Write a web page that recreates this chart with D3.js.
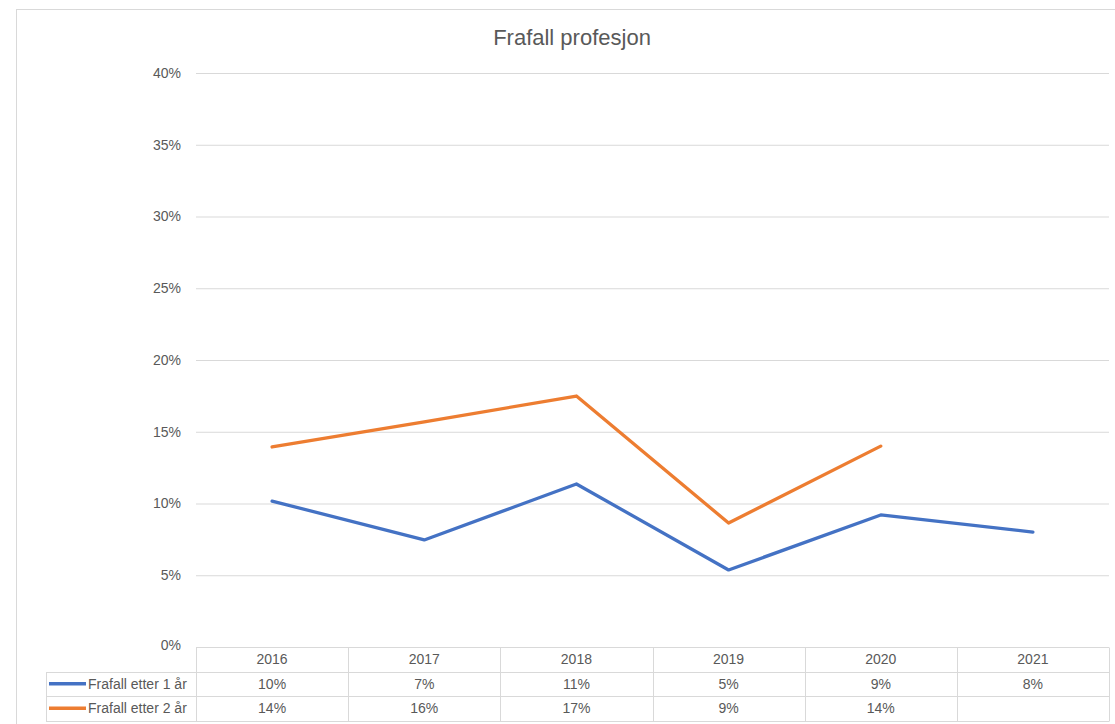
<!DOCTYPE html>
<html>
<head>
<meta charset="utf-8">
<script src="https://cdnjs.cloudflare.com/ajax/libs/d3/7.8.5/d3.min.js"></script>
<style>
  body { margin: 0; background: #fff; }
  svg text { font-family: "Liberation Sans", Arial, sans-serif; fill: #595959; }
</style>
</head>
<body>
<svg id="chart"></svg>
<script>
const years = ["2016", "2017", "2018", "2019", "2020", "2021"];
const etter1 = [0.1017, 0.0746, 0.1136, 0.0537, 0.092, 0.0801];
const etter2 = [0.1394, 0.1568, 0.1749, 0.0864, 0.140, null];
const seriesNames = ["Frafall etter 1 år", "Frafall etter 2 år"];
const seriesColors = ["#4472c4", "#ed7d31"];
const yTicks = [0, 0.05, 0.10, 0.15, 0.20, 0.25, 0.30, 0.35, 0.40];

const W = 1115, H = 724;
const plot = { left: 196, right: 1109, top: 73, bottom: 647 };
const rowH = 24.5;
const legendLeft = 46;
const fs = "14px";

const svg = d3.select("#chart").attr("width", W).attr("height", H);

// chart frame
svg.append("rect")
  .attr("x", 16.5).attr("y", 9.5)
  .attr("width", 1110).attr("height", 730)
  .attr("fill", "none").attr("stroke", "#d9d9d9");

svg.append("text")
  .attr("x", 572).attr("y", 45)
  .attr("text-anchor", "middle")
  .style("font-size", "22px")
  .text("Frafall profesjon");

const x = d3.scaleBand().domain(years).range([plot.left, plot.right]);
const y = d3.scaleLinear().domain([0, 0.4]).range([plot.bottom, plot.top]);

// gridlines + y labels via axis
const yAxis = svg.append("g")
  .attr("transform", "translate(" + plot.left + ",0)")
  .call(d3.axisLeft(y).tickValues(yTicks).tickFormat(d3.format(".0%"))
    .tickSize(-(plot.right - plot.left)).tickPadding(15));
yAxis.select(".domain").remove();
yAxis.selectAll(".tick line").attr("stroke", "#d9d9d9");
yAxis.selectAll(".tick text").style("font-size", fs).attr("fill", "#595959");
yAxis.selectAll(".tick").filter(d => d === 0).select("line").remove();
yAxis.selectAll(".tick").filter(d => d === 0).select("text").attr("dy", "0.15em");

// lines
const line = d3.line()
  .defined(d => d != null)
  .x((d, i) => x(years[i]) + x.bandwidth() / 2)
  .y(d => y(d));

[etter1, etter2].forEach((vals, k) => {
  svg.append("path")
    .attr("d", line(vals))
    .attr("fill", "none")
    .attr("stroke", seriesColors[k])
    .attr("stroke-width", 3.3)
    .attr("stroke-linejoin", "round")
    .attr("stroke-linecap", "round");
});

// data table
const grid = svg.append("g").attr("stroke", "#d9d9d9").attr("stroke-width", 1);
const rows = [plot.bottom + 0.5, plot.bottom + rowH, plot.bottom + 2 * rowH, plot.bottom + 3 * rowH];
grid.append("line").attr("x1", plot.left).attr("x2", plot.right)
  .attr("y1", rows[0]).attr("y2", rows[0]);
rows.slice(1).forEach(ry => {
  grid.append("line").attr("x1", legendLeft).attr("x2", plot.right)
    .attr("y1", Math.round(ry) + 0.5).attr("y2", Math.round(ry) + 0.5);
});
years.forEach(yr => {
  grid.append("line").attr("x1", Math.round(x(yr)) + 0.5).attr("x2", Math.round(x(yr)) + 0.5)
    .attr("y1", rows[0]).attr("y2", Math.round(rows[3]) + 0.5);
});
grid.append("line").attr("x1", plot.right + 0.5).attr("x2", plot.right + 0.5)
  .attr("y1", rows[0]).attr("y2", Math.round(rows[3]) + 0.5);
grid.append("line").attr("x1", legendLeft + 0.5).attr("x2", legendLeft + 0.5)
  .attr("y1", Math.round(rows[1]) + 0.5).attr("y2", Math.round(rows[3]) + 0.5);

const fmt = d3.format(".0%");
const cellText = svg.append("g").style("font-size", fs).attr("text-anchor", "middle");
years.forEach((yr, i) => {
  const cx = x(yr) + x.bandwidth() / 2;
  cellText.append("text").attr("x", cx).attr("y", plot.bottom + rowH / 2 + 5).text(yr);
  [etter1, etter2].forEach((vals, k) => {
    if (vals[i] == null) return;
    cellText.append("text").attr("x", cx).attr("y", plot.bottom + (k + 1.5) * rowH + 5)
      .text(fmt(vals[i]));
  });
});

// legend keys in table
seriesNames.forEach((name, k) => {
  const cy = plot.bottom + (k + 1.5) * rowH;
  svg.append("line").attr("x1", 49).attr("x2", 86)
    .attr("y1", cy).attr("y2", cy)
    .attr("stroke", seriesColors[k]).attr("stroke-width", 3.3);
  svg.append("text").attr("x", 88).attr("y", cy + 5)
    .style("font-size", fs).text(name);
});
</script>
</body>
</html>
